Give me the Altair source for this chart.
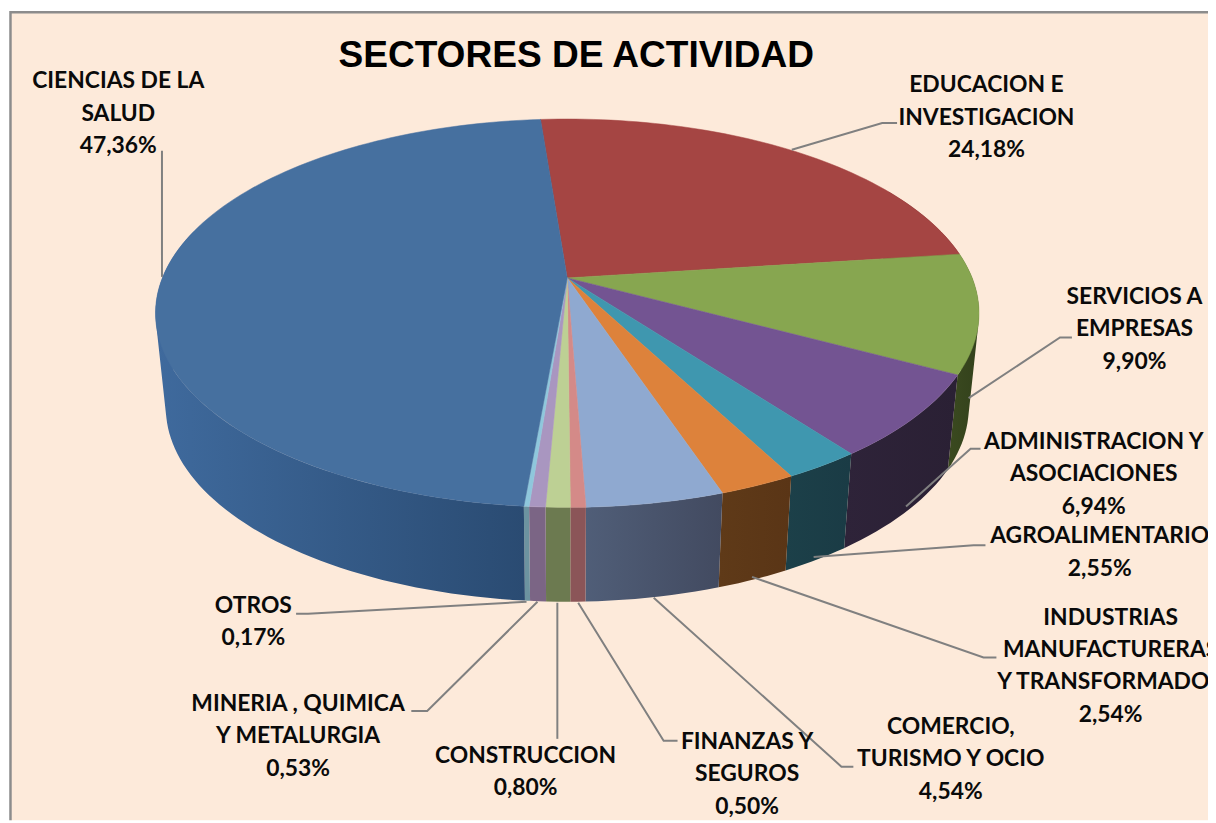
import math
import altair as alt

SECTORS = ["EDUCACION E INVESTIGACION", "SERVICIOS A EMPRESAS", "ADMINISTRACION Y ASOCIACIONES",
           "AGROALIMENTARIO", "INDUSTRIAS MANUFACTURERAS", "COMERCIO, TURISMO Y OCIO",
           "FINANZAS Y SEGUROS", "CONSTRUCCION", "MINERIA , QUIMICA Y METALURGIA", "OTROS",
           "CIENCIAS DE LA SALUD"]
VALUES = [24.18, 9.90, 6.94, 2.55, 2.54, 4.54, 0.50, 0.80, 0.53, 0.17, 47.36]
TOP_COLORS = ["#A54543", "#87A650", "#735492", "#3F97AF", "#DD823B", "#8FA9D0",
              "#D48A88", "#BDD094", "#A996C0", "#8FC7DC", "#46709F"]
WALL_LEFT = ["#6B2D2C", "#3B4A20", "#2E2339", "#1C4049", "#5F3A18", "#505E78",
             "#8B5558", "#6C7A50", "#7B6585", "#6C93A0", "#3F6A9D"]
WALL_RIGHT = ["#6B2D2C", "#33411B", "#2A2034", "#1A3B45", "#5A3516", "#424A60",
              "#8B5558", "#6C7A50", "#7B6585", "#6C93A0", "#2A4B72"]

LABEL_TEXT = ["CIENCIAS DE LA\nSALUD\n47,36%", "EDUCACION E\nINVESTIGACION\n24,18%",
              "SERVICIOS A\nEMPRESAS\n9,90%", "ADMINISTRACION Y\nASOCIACIONES\n6,94%",
              "AGROALIMENTARIO\n2,55%", "INDUSTRIAS\nMANUFACTURERAS\nY TRANSFORMADOR\n2,54%",
              "COMERCIO,\nTURISMO Y OCIO\n4,54%", "FINANZAS Y\nSEGUROS\n0,50%",
              "CONSTRUCCION\n0,80%", "MINERIA , QUIMICA\nY METALURGIA\n0,53%", "OTROS\n0,17%"]
LABEL_X = [119, 993, 1142, 1101, 1107, 1118, 957, 752, 529, 300, 255]
LABEL_Y = [79, 83, 296, 442, 537, 619, 729, 744, 758, 706, 607]

LEADERS = [[(163, 149), (163, 276)],
           [(797, 148), (888, 121), (903, 121)],
           [(975, 398), (1067, 337), (1079, 337)],
           [(912, 507), (977, 449), (987, 449)],
           [(819, 558), (980, 546), (992, 546)],
           [(757, 578), (990, 659), (1003, 659)],
           [(658, 599), (847, 769), (859, 769)],
           [(582, 604), (668, 743), (682, 743)],
           [(561, 604), (561, 741)],
           [(541, 603), (430, 713), (414, 713)],
           [(530, 603), (310, 615), (298, 615)]]

OX, OY = 8, 8
CX, CY = 571, 277
A, B, K = 407.6, 189.0, 0.1816
START = -4.5
WALL = 95.0
TAPER = 0.975


def top(deg):
    t = math.radians(deg)
    u, v = math.sin(t), -math.cos(t)
    d = 1 - K * v
    return (CX + A * u / d, CY + B * v / d)


def bottom(deg):
    x, y = top(deg)
    return (CX + (x - CX) * TAPER, y + WALL)


def arc(fn, a0, a1):
    n = max(2, int(abs(a1 - a0) / 1.5) + 1)
    return [fn(a0 + (a1 - a0) * i / n) for i in range(n + 1)]


def loc(pts):
    return [[round(x - OX, 2), round(y - OY, 2)] for x, y in pts]


def polygon(pts):
    ring = loc(pts)
    ring.append(ring[0])
    return {"type": "Feature", "properties": {}, "geometry": {"type": "Polygon", "coordinates": [ring]}}


def signed_area(pts):
    return sum(pts[i][0] * pts[(i + 1) % len(pts)][1] - pts[(i + 1) % len(pts)][0] * pts[i][1]
               for i in range(len(pts)))


def wall(a0, a1):
    tops, bots = arc(top, a0, a1), arc(bottom, a0, a1)
    quads = []
    for i in range(len(tops) - 1):
        q = [tops[i], tops[i + 1], bots[i + 1], bots[i]]
        if signed_area(q) < 0:
            q = q[::-1]
        ring = loc(q)
        ring.append(ring[0])
        quads.append([ring])
    return {"type": "Feature", "properties": {}, "geometry": {"type": "MultiPolygon", "coordinates": quads}}


def line(pts):
    return {"type": "Feature", "properties": {}, "geometry": {"type": "LineString", "coordinates": loc(pts)}}


PROJ = alt.Projection(type="identity", scale=1, translate=[0, 0])


def shape(feature, **mark):
    return alt.Chart(alt.Data(values=[feature])).mark_geoshape(**mark).project(**PROJ.to_dict())


layers = []
layers.append(shape(polygon([(10.5, 9.5), (1300, 9.5), (1300, 900), (10.5, 900)]),
                    fill="#FDEADA", stroke="#8C8C8C", strokeWidth=2.5))

angle = START
edges = []
for val in VALUES:
    edges.append((angle, angle + val * 3.6))
    angle += val * 3.6

# side wall, front parts only
for (a0, a1), cl, cr in zip(edges, WALL_LEFT, WALL_RIGHT):
    lo, hi = max(a0, 60), min(a1, 285)
    if hi <= lo:
        continue
    layers.append(shape(wall(lo, hi),
                        fill=alt.Gradient(gradient="linear", x1=0, x2=1, y1=0, y2=0,
                                          stops=[alt.GradientStop(offset=0, color=cl),
                                                 alt.GradientStop(offset=1, color=cr)]),
                        strokeWidth=0))

# top face
for (a0, a1), c in zip(edges, TOP_COLORS):
    pts = [(CX, CY)] + arc(top, a0, a1)
    layers.append(shape(polygon(pts), fill=c, stroke=c, strokeWidth=0.5))

for pts in LEADERS:
    layers.append(shape(line(pts), filled=False, stroke="#808080", strokeWidth=2))

label_rows = [{"t": t, "x": x - OX, "y": y - OY} for t, x, y in zip(LABEL_TEXT, LABEL_X, LABEL_Y)]
labels = alt.Chart(alt.Data(values=label_rows)).mark_text(
    font="Lato", fontWeight="bold", fontSize=23, lineHeight=32.6, align="center",
    baseline="middle", lineBreak="\n", color="#0A0A0A"
).encode(x=alt.X("x:Q", scale=None), y=alt.Y("y:Q", scale=None), text="t:N")
layers.append(labels)

title = alt.Chart(alt.Data(values=[{"t": "SECTORES DE ACTIVIDAD", "x": 580 - OX, "y": 54 - OY}])).mark_text(
    font="Liberation Sans", fontWeight="bold", fontSize=37.3, align="center", baseline="middle", color="#000000"
).encode(x=alt.X("x:Q", scale=None), y=alt.Y("y:Q", scale=None), text="t:N")
layers.append(title)

chart = alt.layer(*layers).properties(
    width=1208, height=815, background="white", padding=0,
    autosize=alt.AutoSizeParams(type="none")
).configure_view(stroke=None)

chart.save("out.html", embed_options={"renderer": "svg", "actions": False})
